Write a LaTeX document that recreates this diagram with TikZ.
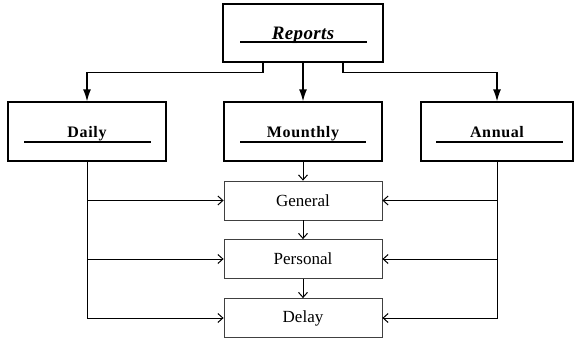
\documentclass[tikz,border=0pt]{standalone}
\usepackage{fontspec}
\setmainfont{Liberation Serif}
\usetikzlibrary{arrows.meta}
\begin{document}
\begin{tikzpicture}[x=1pt,y=-1pt,
  topbox/.style={draw,line width=1.3pt,minimum width=158pt,minimum height=59pt,inner sep=0pt},
  subbox/.style={draw=black!75,line width=0.8pt,minimum width=158pt,minimum height=39pt,inner sep=0pt,
    font=\fontsize{17}{19}\selectfont},
  uline/.style={line width=1.1pt},
  toparrow/.style={line width=1.3pt,-{Latex[length=12pt,width=8pt]}},
  lowarrow/.style={line width=1pt,-{Straight Barb[length=5pt,width=9pt]}},
  lbl/.style={inner sep=0pt,anchor=base},
  midlbl/.style={lbl,font=\fontsize{16}{18}\selectfont\bfseries\addfontfeature{LetterSpace=4}}
]
\useasboundingbox (0,0) rectangle (574,340);
% top box
\node[topbox,minimum width=160pt,minimum height=58pt] (reports) at (303,33) {};
\node[lbl,font=\fontsize{19}{21}\selectfont\bfseries\itshape\addfontfeature{LetterSpace=2}] (treports) at (303,39) {Reports};
\draw[uline] (240,42) coordinate (ru1) -- (367,42) coordinate (ru2);
% middle row
\node[topbox] (daily) at (87,131.5) {};
\node[topbox] (monthly) at (303,131.5) {};
\node[topbox,minimum width=152pt] (annual) at (497,131.5) {};
\node[midlbl] (tdaily) at (87,137) {Daily};
\node[midlbl] (tmonthly) at (303,137) {Mounthly};
\node[midlbl] (tannual) at (497,137) {Annual};
\draw[uline] (24,142) coordinate (du1) -- (151,142) coordinate (du2);
\draw[uline] (240,142) coordinate (mu1) -- (366,142) coordinate (mu2);
\draw[uline] (436,142) coordinate (au1) -- (563,142) coordinate (au2);
% bottom boxes
\node[subbox] (general) at (303,200.5) {General};
\node[subbox] (personal) at (303,259) {Personal};
\node[subbox] (delay) at (303,318) {Delay};
% top connectors
\draw[toparrow] ([xshift=-40pt]reports.south) -- ++(0,10) -| (daily.north);
\draw[toparrow] (reports.south) -- (monthly.north);
\draw[toparrow] ([xshift=40pt]reports.south) -- ++(0,10) -| (annual.north);
% lower connectors
\draw[lowarrow] (monthly.south) -- (general.north);
\draw[lowarrow] (general.south) -- (personal.north);
\draw[lowarrow] (personal.south) -- (delay.north);
\draw[lowarrow] (daily.south) |- (delay.west);
\draw[lowarrow] (daily.south |- general.west) -- (general.west);
\draw[lowarrow] (daily.south |- personal.west) -- (personal.west);
\draw[lowarrow] (annual.south) |- (delay.east);
\draw[lowarrow] (annual.south |- general.east) -- (general.east);
\draw[lowarrow] (annual.south |- personal.east) -- (personal.east);
\end{tikzpicture}
\end{document}
